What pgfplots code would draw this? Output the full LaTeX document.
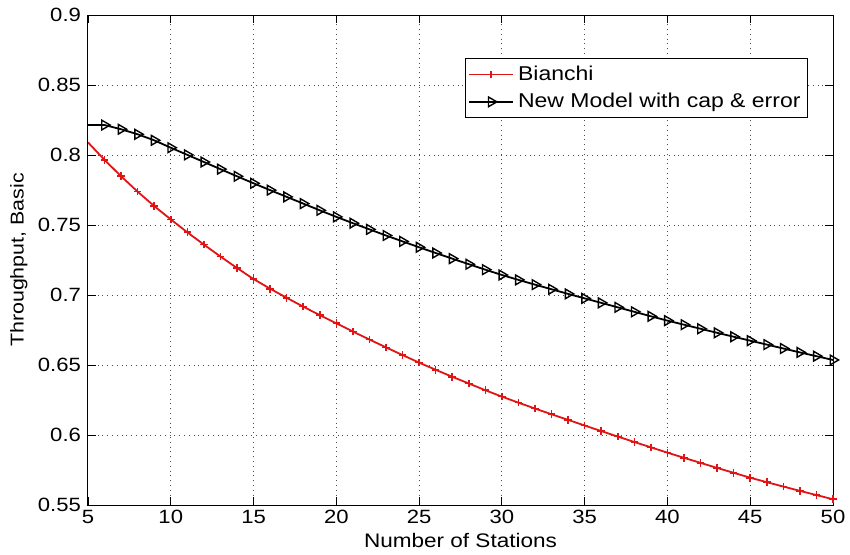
\documentclass[border=0pt]{standalone}
\usepackage{fontspec}
\setmainfont{Liberation Sans}[FakeStretch=1.15]
\usepackage{pgfplots}
\pgfplotsset{compat=1.18}

% Throughput (basic access) versus number of stations
\pgfplotstableread{
n   bianchi  newmodel
5   0.8090   0.8214
6   0.7965   0.8214
7   0.7848   0.8184
8   0.7738   0.8148
9   0.7635   0.8105
10  0.7540   0.8052
11  0.7448   0.8001
12  0.7360   0.7950
13  0.7275   0.7899
14  0.7193   0.7848
15  0.7114   0.7798
16  0.7045   0.7749
17  0.6980   0.7701
18  0.6917   0.7653
19  0.6856   0.7605
20  0.6798   0.7558
21  0.6739   0.7513
22  0.6682   0.7469
23  0.6626   0.7425
24  0.6571   0.7383
25  0.6517   0.7341
26  0.6466   0.7300
27  0.6416   0.7260
28  0.6368   0.7220
29  0.6320   0.7181
30  0.6274   0.7143
31  0.6231   0.7108
32  0.6189   0.7074
33  0.6148   0.7041
34  0.6108   0.7008
35  0.6068   0.6976
36  0.6028   0.6944
37  0.5989   0.6912
38  0.5950   0.6880
39  0.5912   0.6848
40  0.5874   0.6817
41  0.5837   0.6788
42  0.5801   0.6759
43  0.5765   0.6730
44  0.5730   0.6702
45  0.5695   0.6674
46  0.5663   0.6646
47  0.5632   0.6618
48  0.5601   0.6590
49  0.5571   0.6563
50  0.5541   0.6536
}\throughput

\definecolor{mred}{rgb}{0.88,0.08,0.08}

\begin{document}
\begin{tikzpicture}
\begin{axis}[
  at={(0,0)}, anchor=south west,
  scale only axis,
  width=372.5pt, height=245pt,
  xmin=5, xmax=50, ymin=0.55, ymax=0.9,
  xtick={5,10,...,50},
  ytick={0.55,0.6,0.65,0.7,0.75,0.8,0.85,0.9},
  yticklabel style={/pgf/number format/fixed, /pgf/number format/precision=2},
  /pgf/number format/assume math mode=true,
  tick align=inside,
  major tick length=4pt,
  tick style={black, line width=0.4pt},
  axis line style={black, line width=0.5pt},
  grid=major,
  major grid style={black!70, dotted, line width=0.5pt},
  tick label style={font=\fontsize{9.6}{11}\selectfont},
  xticklabel style={yshift=1pt},
  label style={font=\fontsize{9.8}{11}\selectfont},
  xlabel={Number of Stations},
  ylabel={Throughput, Basic},
  xlabel style={at={(axis description cs:0.5,-0.072)}, anchor=center},
  ylabel style={at={(axis description cs:-0.093,0.5)}, anchor=center,
    font=\fontsize{9.3}{11}\selectfont},
  legend style={at={(axis description cs:0.506,0.912)}, anchor=north west,
    draw=black, line width=0.5pt, fill=white,
    font=\fontsize{10}{12}\selectfont,
    inner xsep=1.5pt, inner ysep=1.5pt,
    row sep=1pt},
  legend cell align=left,
  % legend sample: a line with one mark at its middle
  legend image code/.code={%
    \draw[#1, mark=none] (0pt,0pt) -- (22pt,0pt);
    \draw[#1, mark indices={1}] plot coordinates {(11pt,0pt)};},
  legend image post style={line width=0.8pt},
]
\addplot[mred, line width=0.9pt, mark=+, mark size=1.9pt, mark indices={2,...,46},
  mark options={line width=0.8pt}] table[x=n, y=bianchi] {\throughput};
\addlegendentry{Bianchi}
\addplot[black, line width=0.9pt, mark=triangle, mark size=2.8pt, mark indices={2,...,46},
  mark options={rotate=-90, line width=0.7pt, fill=none}] table[x=n, y=newmodel] {\throughput};
\addlegendentry{New Model with cap \& error}
\end{axis}
\pgfresetboundingbox
\path[use as bounding box] (-44pt,-24.5pt) rectangle (381pt,252.5pt);
\end{tikzpicture}
\end{document}
